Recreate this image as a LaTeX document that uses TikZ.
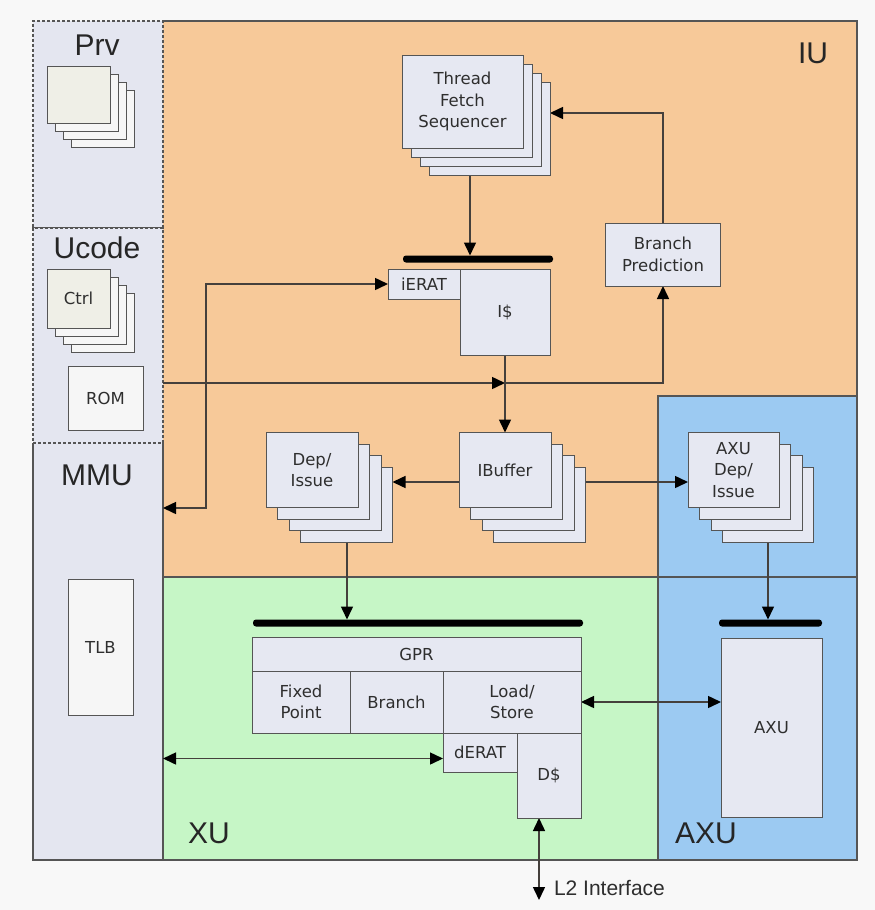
\documentclass[tikz,border=0pt]{standalone}
\usepackage{fontspec}
\setmainfont{DejaVu Sans}
\newfontfamily\arialfamily{Liberation Sans}
\usetikzlibrary{arrows.meta,positioning,shadows}

\definecolor{iuc}{HTML}{F7C999}
\definecolor{xuc}{HTML}{C6F6C6}
\definecolor{axuc}{HTML}{9CCAF2}
\definecolor{colc}{HTML}{E4E6F0}
\definecolor{boxc}{HTML}{E6E8F2}
\definecolor{palec}{HTML}{EFEFE7}
\definecolor{whitec}{HTML}{F6F6F6}
\definecolor{pagec}{HTML}{F8F8F8}
\definecolor{linec}{HTML}{555555}
\definecolor{wirec}{HTML}{45403C}
\definecolor{textc}{HTML}{2E2E2E}

\pgfdeclarelayer{back}
\pgfdeclarelayer{wires}
\pgfsetlayers{back,wires,main}

\begin{document}
\begin{tikzpicture}[
x=1pt, y=-1pt,
>={Triangle[length=13pt,width=12pt,color=black]},
every node/.style={inner sep=0pt, outer sep=0pt, align=center, text=textc, font=\fontsize{16.5}{21.5}\selectfont},
wh/.style 2 args={minimum width=#1pt, minimum height=#2pt},
region/.style={fill=#1},
frame/.style={draw=linec, line width=1.2pt},
dashframe/.style={draw=linec, line width=1.2pt, dash pattern=on 3pt off 2pt},
block/.style={draw=linec, line width=1pt, fill=boxc},
paleblock/.style={draw=linec, line width=1pt, fill=whitec},
stack/.style 2 args={
  general shadow={draw=linec, line width=1pt, fill=#1, shadow xshift=3*#2, shadow yshift=-3*#2},
  general shadow={draw=linec, line width=1pt, fill=#1, shadow xshift=2*#2, shadow yshift=-2*#2},
  general shadow={draw=linec, line width=1pt, fill=#1, shadow xshift=#2, shadow yshift=-#2}},
bar/.style={fill=black, rounded corners=3pt, minimum height=7pt},
unitname/.style={font=\arialfamily\fontsize{30}{30}\selectfont, text=black!85},
wire/.style={draw=wirec, line width=1.5pt},
arrow/.style={wire, ->},
biarrow/.style={wire, <->}
]
\useasboundingbox (0,0) rectangle (875,910);

\begin{pgfonlayer}{back}
\fill[pagec] (0,0) rectangle (875,910);
% IU, XU and AXU areas
\node[region=iuc, wh={694}{556}] (iu) at (510,299) {};
\node[region=xuc, frame, wh={495}{283}] (xu) at (410.5,718.5) {};
\node[region=axuc, frame, wh={199}{464}] (axu) at (757.5,628) {};
\draw[frame] (iu.north west) -- (iu.north east) -- (axu.north east);
\draw[frame] (axu.west |- xu.north) -- (axu.east |- xu.north);
% left column
\node[region=colc, wh={130}{417}] (mmu) at (98,651.5) {};
\draw[frame] (mmu.north west) -- (mmu.south west) -- (mmu.south east) -- (mmu.north east);
\node[region=colc, dashframe, wh={130}{207}] (prv) at (98,124.5) {};
\node[region=colc, dashframe, wh={130}{215}] (ucode) at (98,335.5) {};
\end{pgfonlayer}

% unit names
\node[unitname] (prvlbl) at (97,45) {Prv};
\node[unitname] (ucodelbl) at (97,248) {Ucode};
\node[unitname] (mmulbl) at (97,475) {MMU};
\node[unitname] (iulbl) at (813,53) {IU};
\node[unitname] (xulbl) at (209,833) {XU};
\node[unitname] (axulbl) at (706,833) {AXU};

% Prv, Ucode, MMU
\node[paleblock, fill=palec, stack={whitec}{8pt}, wh={63}{57}] (prvbox) at (78.5,94.5) {};
\node[paleblock, fill=palec, stack={whitec}{8pt}, wh={63}{59}] (ctrl) at (78.5,298.5) {Ctrl};
\node[paleblock, wh={75}{64}] (rom) at (105.5,398) {ROM};
\node[paleblock, wh={65}{136}] (tlb) at (100.5,647) {TLB};

% IU
\node[block, stack={boxc}{9pt}, wh={121}{93}] (tfs) at (462.5,101.5) {Thread\\Fetch\\Sequencer};
\node[block, wh={115}{63}] (bp) at (663,254.5) {Branch\\Prediction};
\node[bar, minimum width=150pt] (ibar) at (478,259) {};
\node[block, wh={90}{86}] (icache) at (505,312) {I\$};
\node[block, wh={72}{30}, anchor=north east] (ierat) at (icache.north west) {iERAT};
\node[block, stack={boxc}{11.5pt}, wh={92}{75}] (ibuf) at (505,470) {IBuffer};
\node[block, stack={boxc}{11.5pt}, wh={92}{75}] (dep) at (312,470) {Dep/\\Issue};
\node[block, stack={boxc}{11.5pt}, wh={91}{75}] (axudep) at (733.5,470) {AXU\\Dep/\\Issue};

% XU
\node[bar, minimum width=330pt] (gbar) at (418,623) {};
\node[block, wh={329}{34}] (gpr) at (416.5,654) {GPR};
\node[block, wh={98}{62}, anchor=north west] (fxp) at (gpr.south west) {Fixed\\Point};
\node[block, wh={93}{62}, anchor=north west] (brn) at (fxp.north east) {Branch};
\node[block, wh={138}{62}, anchor=north west] (lsu) at (brn.north east) {Load/\\Store};
\node[block, wh={74}{39}, anchor=north west] (derat) at (lsu.south west) {dERAT};
\node[block, wh={64}{85}, anchor=north east] (dcache) at (lsu.south east) {D\$};

% AXU
\node[bar, minimum width=103pt] (abar) at (770.5,623) {};
\node[block, wh={101}{179}] (axubox) at (771.5,727.5) {AXU};

% L2
\coordinate (l2) at (539,900);
\node[font=\arialfamily\fontsize{21}{21}\selectfont, right=15pt of l2, yshift=12pt] (l2lbl) {L2 Interface};

\begin{pgfonlayer}{wires}
\coordinate (ucodeout) at (ucode.east |- 0,383);
\coordinate (fork) at (icache.south |- ucodeout);
\coordinate (mmuport) at (mmu.east |- 0,508);
\coordinate (deratin) at ([shift={(0,6)}]derat.west);
\draw[arrow] ([xshift=7.5pt]tfs.south) -- ([xshift=7.5pt]tfs.south |- ibar.north);
\draw[arrow] (bp.north) |- ([shift={(27,11.5)}]tfs.east);
\draw[arrow] (ucodeout) -- (fork);
\draw[arrow] (fork) -| (bp.south);
\draw[arrow] (icache.south) -- (ibuf.north);
\draw[biarrow] (ierat.west) -| ([xshift=43pt]mmuport) -- (mmuport);
\draw[arrow] ([shift={(0,12)}]ibuf.west) -- ([shift={(34.5,12)}]dep.east);
\draw[arrow] ([shift={(34.5,12)}]ibuf.east) -- ([shift={(0,12)}]axudep.west);
\draw[arrow] ([xshift=35pt]dep.south) -- ([xshift=35pt]dep.south |- gbar.north);
\draw[arrow] ([xshift=34.5pt]axudep.south) -- ([xshift=34.5pt]axudep.south |- abar.north);
\draw[biarrow] (lsu.east) -- (lsu.east -| axubox.west);
\draw[biarrow] (deratin) -- (deratin -| mmu.east);
\draw[biarrow] ([xshift=-10pt]dcache.south) -- (l2);
\end{pgfonlayer}
\end{tikzpicture}
\end{document}
